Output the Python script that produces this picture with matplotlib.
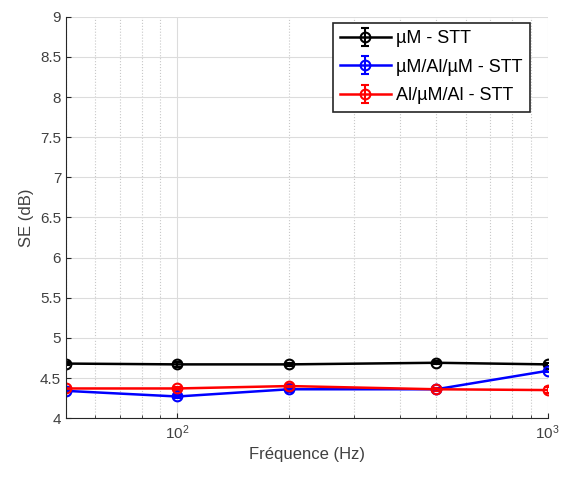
import numpy as np
import matplotlib
matplotlib.use('Agg')
import matplotlib.pyplot as plt
from matplotlib.ticker import LogLocator, NullFormatter

freq = [50, 100, 200, 500, 1000]
se_um = [4.68, 4.67, 4.67, 4.69, 4.67]
err_um = [0.02, 0.03, 0.02, 0.02, 0.02]
se_um_al_um = [4.34, 4.27, 4.36, 4.36, 4.59]
err_um_al_um = [0.02, 0.02, 0.03, 0.02, 0.02]
se_al_um_al = [4.37, 4.37, 4.40, 4.36, 4.35]
err_al_um_al = [0.02, 0.02, 0.02, 0.02, 0.04]

labels = ['µM - STT', 'µM/Al/µM - STT', 'Al/µM/Al - STT']
colors = ['black', 'blue', 'red']

plt.rcParams['font.family'] = ['Liberation Sans', 'DejaVu Sans']
plt.rcParams['font.size'] = 11

fig = plt.figure(figsize=(5.64, 4.79), dpi=100)
ax = fig.add_axes([0.117, 0.127, 0.854, 0.838])

series = [(se_um, err_um), (se_um_al_um, err_um_al_um), (se_al_um_al, err_al_um_al)]
for (y, e), lab, c in zip(series, labels, colors):
    ax.errorbar(freq, y, yerr=e, color=c, marker='o', markersize=7,
                markerfacecolor='none', markeredgewidth=1.5, linewidth=1.8,
                capsize=3, capthick=1.5, elinewidth=1.5, label=lab)

ax.set_xscale('log')
ax.set_xlim(50, 1000)
ax.set_ylim(4, 9)
ax.set_yticks(np.arange(4, 9.01, 0.5))
ax.set_yticklabels(['4', '4.5', '5', '5.5', '6', '6.5', '7', '7.5', '8', '8.5', '9'])
ax.xaxis.set_minor_locator(LogLocator(base=10, subs=np.arange(2, 10)))
ax.xaxis.set_minor_formatter(NullFormatter())

ax.grid(True, which='major', color='#dcdcdc', linewidth=0.8)
ax.grid(True, which='minor', axis='x', color='#c8c8c8', linestyle=':', linewidth=0.8)
ax.set_axisbelow(True)

for s in ['top', 'right']:
    ax.spines[s].set_visible(False)
for s in ['left', 'bottom']:
    ax.spines[s].set_color('#262626')
ax.tick_params(which='both', direction='in', colors='#262626', labelcolor='#404040', labelsize=11)
ax.tick_params(which='minor', length=2)

ax.set_xlabel('Fréquence (Hz)', color='#404040', fontsize=12)
ax.set_ylabel('SE (dB)', color='#404040', fontsize=12)

leg = ax.legend(loc='upper right', fontsize=13, fancybox=False, framealpha=1,
                edgecolor='#262626', borderpad=0.4, handlelength=2.8,
                handletextpad=0.3, labelspacing=0.65, borderaxespad=0,
                bbox_to_anchor=(0.963, 0.985))
leg.get_frame().set_linewidth(1.2)

plt.savefig('out.png', dpi=100)
